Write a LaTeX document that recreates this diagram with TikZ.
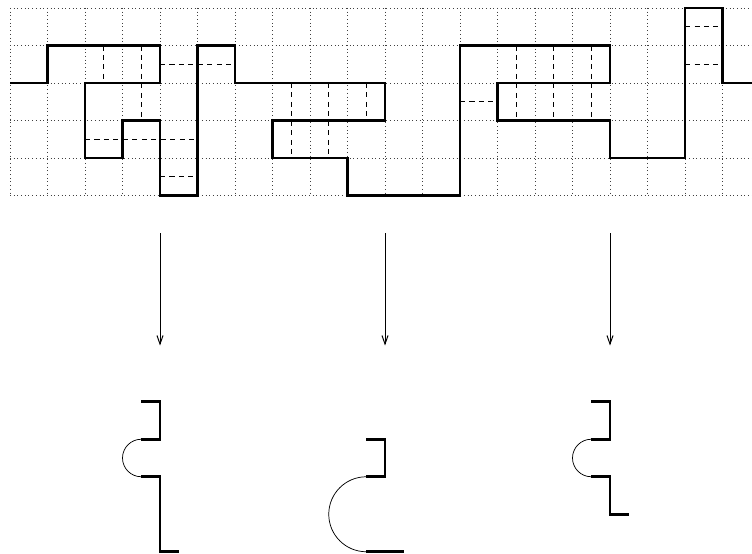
\documentclass[tikz,border=0pt]{standalone}
\usetikzlibrary{arrows.meta}
\begin{document}
\begin{tikzpicture}[x=1cm,y=-1cm,
  gridline/.style={line width=0.5pt,black!75,dash pattern=on 0.5pt off 2.3pt},
  bold/.style={line width=2.2pt,line join=miter},
  dashseg/.style={line width=0.8pt,dash pattern=on 3.8pt off 3.4pt},
  thinarc/.style={line width=0.55pt},
  arr/.style={line width=0.75pt,-{Straight Barb[length=6.5pt,width=4.6pt]}}]
\useasboundingbox (-0.2667,-0.2133) rectangle (19.7867,14.56);
% grid
\foreach \i in {0,...,19} \draw[gridline] (\i,0) -- (\i,5);
\foreach \j in {0,...,5} \draw[gridline] (0,\j) -- (19.7867,\j);
% dashed segments
\draw[dashseg] (2.5,1) -- (2.5,2);
\draw[dashseg] (3.5,1) -- (3.5,3);
\draw[dashseg] (4,1.5) -- (6,1.5);
\draw[dashseg] (2,3.5) -- (5,3.5);
\draw[dashseg] (4,4.5) -- (5,4.5);
\draw[dashseg] (7.5,2) -- (7.5,4);
\draw[dashseg] (8.5,2) -- (8.5,4);
\draw[dashseg] (9.5,2) -- (9.5,3);
\draw[dashseg] (12,2.5) -- (13,2.5);
\draw[dashseg] (13.5,1) -- (13.5,3);
\draw[dashseg] (14.5,1) -- (14.5,3);
\draw[dashseg] (15.5,1) -- (15.5,3);
\draw[dashseg] (18,0.5) -- (19,0.5);
\draw[dashseg] (18,1.5) -- (19,1.5);
% main path
\draw[bold] (0,2) -- (1,2) -- (1,1) -- (4,1) -- (4,2) -- (2,2) -- (2,4) -- (3,4)
  -- (3,3) -- (4,3) -- (4,5) -- (5,5) -- (5,1) -- (6,1) -- (6,2) -- (10,2)
  -- (10,3) -- (7,3) -- (7,4) -- (9,4) -- (9,5) -- (12,5) -- (12,1) -- (16,1)
  -- (16,2) -- (13,2) -- (13,3) -- (16,3) -- (16,4) -- (18,4) -- (18,0)
  -- (19,0) -- (19,2) -- (19.7867,2);
% arrows
\coordinate (a1s) at (4,6);  \coordinate (a1e) at (4,9);
\coordinate (a2s) at (10,6); \coordinate (a2e) at (10,9);
\coordinate (a3s) at (16,6); \coordinate (a3e) at (16,9);
\draw[arr] (a1s) -- (a1e);
\draw[arr] (a2s) -- (a2e);
\draw[arr] (a3s) -- (a3e);
% bottom shape 1
\draw[bold] (3.5,10.5) -- (4,10.5) -- (4,11.5) -- (3.5,11.5);
\draw[thinarc] (3.5,11.5) arc[start angle=270,end angle=90,radius=0.5];
\draw[bold] (3.5,12.5) -- (4,12.5) -- (4,14.5) -- (4.5,14.5);
% bottom shape 2
\draw[bold] (9.5,11.5) -- (10,11.5) -- (10,12.5) -- (9.5,12.5);
\draw[thinarc] (9.5,12.5) arc[start angle=270,end angle=90,radius=1];
\draw[bold] (9.5,14.5) -- (10.5,14.5);
% bottom shape 3
\draw[bold] (15.5,10.5) -- (16,10.5) -- (16,11.5) -- (15.5,11.5);
\draw[thinarc] (15.5,11.5) arc[start angle=270,end angle=90,radius=0.5];
\draw[bold] (15.5,12.5) -- (16,12.5) -- (16,13.5) -- (16.5,13.5);
\end{tikzpicture}
\end{document}
